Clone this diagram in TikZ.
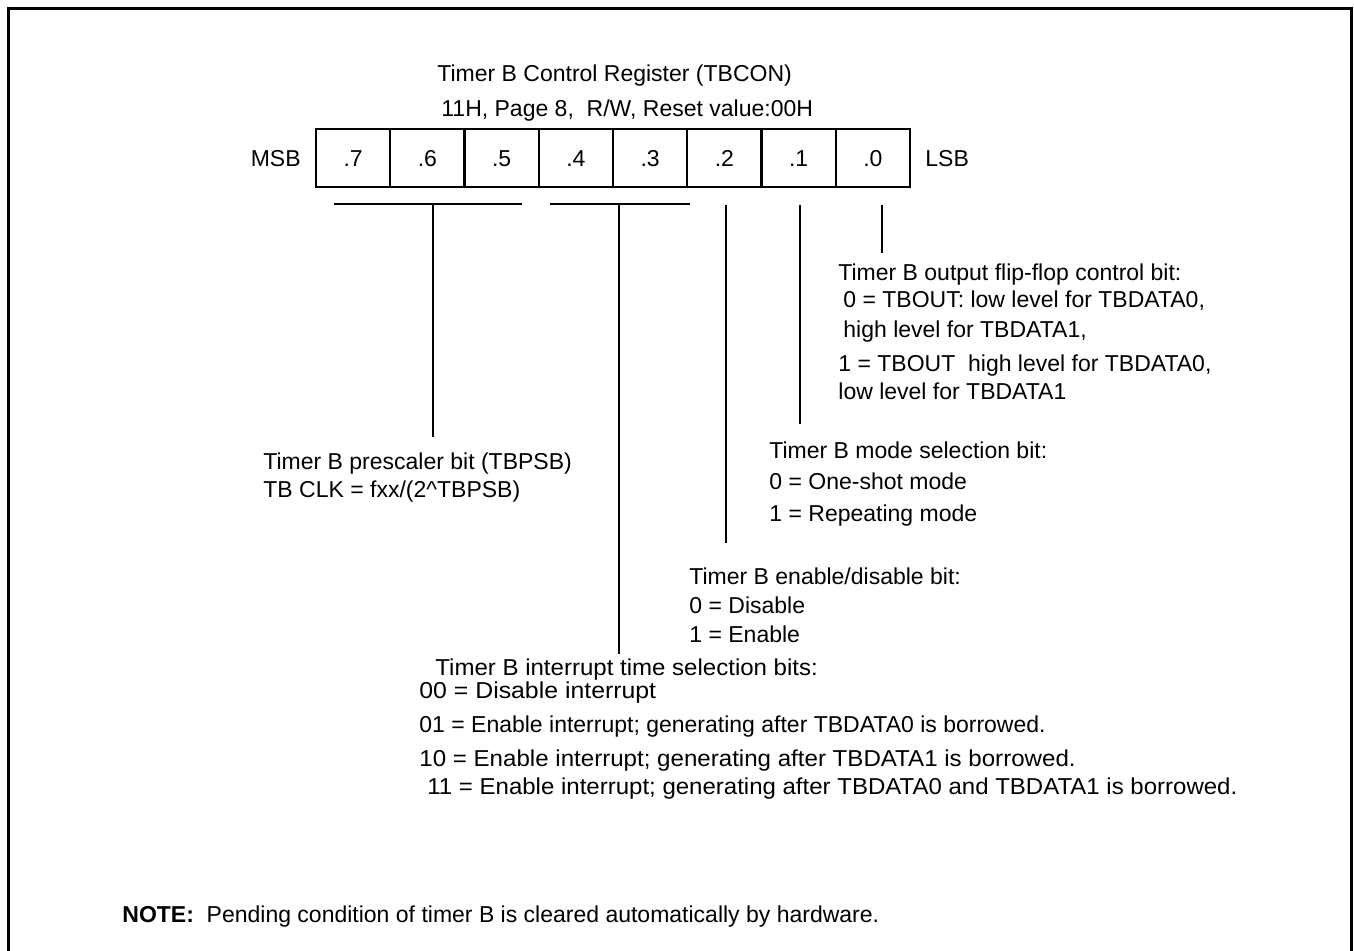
\documentclass[tikz,border=0pt]{standalone}
\usepackage{fontspec}
\setmainfont{Liberation Sans}
\usetikzlibrary{positioning}

\begin{document}
\begin{tikzpicture}[
  x=0.5pt, y=-0.5pt,
  font=\fontsize{11.5}{13.5}\selectfont,
  cell/.style={draw, line width=1pt, minimum width=37.1pt, minimum height=29pt,
    inner sep=0pt, outer sep=0pt},
  txt/.style={anchor=base west, inner sep=0pt},
  lead/.style={line width=1pt},
  frame/.style={line width=1.5pt}
]
  \useasboundingbox (0,0) rectangle (1354,951);
  \draw[frame] (8,951) -- (8,9) -- (1351,9) -- (1351,951);

  % register heading
  \node[txt] (title) at (437,82)  {Timer B Control Register (TBCON)};
  \node[txt] (addr)  at (441,117) {11H, Page 8,\ \ R/W, Reset value:00H};

  % bit cells
  \foreach \i in {7,...,0}
    \node[cell] (b\i) at ({353.1+(7-\i)*74.25},158.5) {.\i};
  \node[anchor=east, inner sep=0pt] (msb) at (301,158.5) {MSB};
  \node[anchor=west, inner sep=0pt] (lsb) at (925,158.5) {LSB};

  % bracket and lead ends
  \coordinate (g7) at (334,204);
  \coordinate (g5) at (522,204);
  \coordinate (g4) at (550,204);
  \coordinate (g3) at (690,204);
  \coordinate (p0) at (433,204);
  \coordinate (p1) at (619,204);
  \coordinate (p2) at (726,205);
  \coordinate (p3) at (800,205);
  \coordinate (p4) at (882,205);
  \coordinate (e0) at (433,437);
  \coordinate (e1) at (619,654);
  \coordinate (e2) at (726,543);
  \coordinate (e3) at (800,424);
  \coordinate (e4) at (882,253);

  % bit 0
  \node[txt] (ff)  at (838,281) {Timer B output flip-flop control bit:};
  \node[txt] (ff0) at (843,308) {0 = TBOUT: low level for TBDATA0,};
  \node[txt] (ffa) at (843,338) {high level for TBDATA1,};
  \node[txt] (ff1) at (838,372) {1 = TBOUT\ \ high level for TBDATA0,};
  \node[txt] (ffb) at (838,400) {low level for TBDATA1};

  % bit 1
  \node[txt] (md)  at (769,459) {Timer B mode selection bit:};
  \node[txt] (md0) at (769,490) {0 = One-shot mode};
  \node[txt] (md1) at (769,522) {1 = Repeating mode};

  % bits 7-5
  \node[txt] (ps)  at (263,470) {Timer B prescaler bit (TBPSB)};
  \node[txt] (ps0) at (263,498) {TB CLK = fxx/(2\^{}TBPSB)};

  % bit 2
  \node[txt] (en)  at (689,584) {Timer B enable/disable bit:};
  \node[txt] (en0) at (689,613) {0 = Disable};
  \node[txt] (en1) at (689,642) {1 = Enable};

  % bits 4-3
  \node[txt] (it)   at (435,675) {\scalebox{1.045}[1]{Timer B interrupt time selection bits:}};
  \node[txt] (it00) at (419,698) {\scalebox{1.08}[1]{00 = Disable interrupt}};
  \node[txt] (it01) at (419,732) {01 = Enable interrupt; generating after TBDATA0 is borrowed.};
  \node[txt] (it10) at (419,766) {\scalebox{1.048}[1]{10 = Enable interrupt; generating after TBDATA1 is borrowed.}};
  \node[txt] (it11) at (427,794) {\scalebox{1.044}[1]{11 = Enable interrupt; generating after TBDATA0 and TBDATA1 is borrowed.}};

  \node[txt] (note) at (122,922) {\textbf{NOTE:}\ \ Pending condition of timer B is cleared automatically by hardware.};

  \draw[lead] (g7) -- (g5);
  \draw[lead] (g4) -- (g3);
  \draw[lead] (p0) -- (e0);
  \draw[lead] (p1) -- (e1);
  \draw[lead] (p2) -- (e2);
  \draw[lead] (p3) -- (e3);
  \draw[lead] (p4) -- (e4);
\end{tikzpicture}
\end{document}
